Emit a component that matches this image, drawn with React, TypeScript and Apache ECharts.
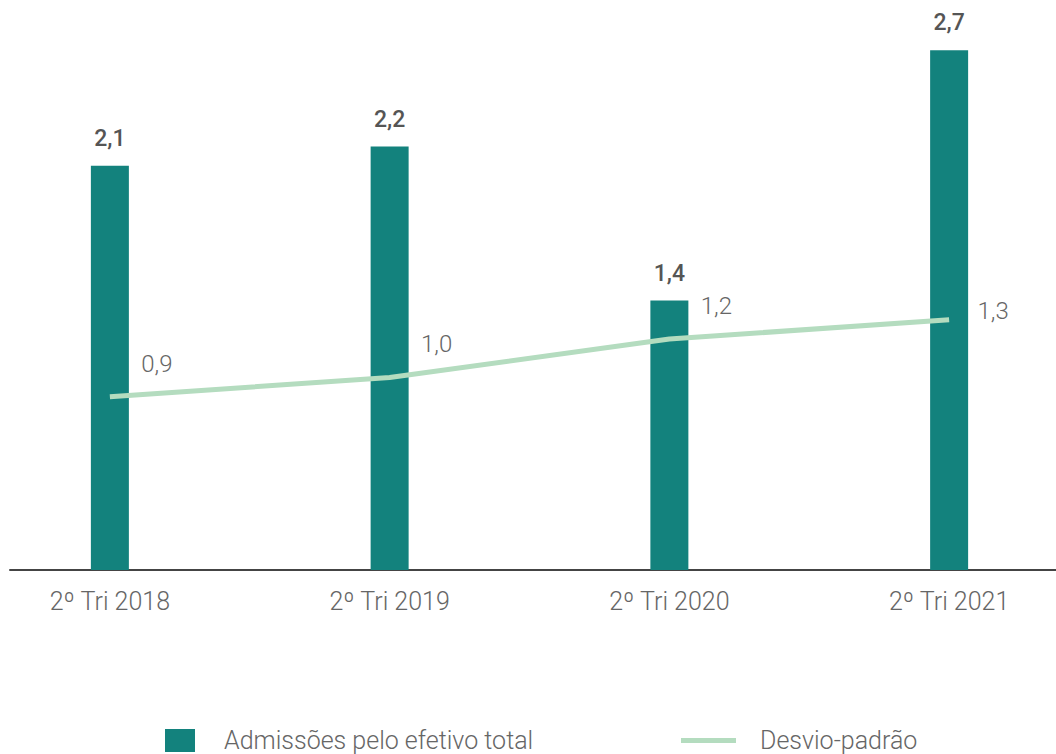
import React, { useEffect, useRef } from "react";
import * as echarts from "echarts";

const categories = ["2º Tri 2018", "2º Tri 2019", "2º Tri 2020", "2º Tri 2021"];
const admissoes = [2.1, 2.2, 1.4, 2.7];
const desvio = [0.9, 1.0, 1.2, 1.3];
const barName = "Admissões pelo efetivo total";
const lineName = "Desvio-padrão";

const fmt = (v: number) => v.toFixed(1).replace(".", ",");

export default function App() {
  const ref = useRef<HTMLDivElement>(null);
  useEffect(() => {
    const chart = echarts.init(ref.current!, null, { renderer: "svg" });
    const last = desvio.length - 1;
    chart.setOption({
      animation: false,
      textStyle: { fontFamily: "Roboto" },
      grid: [
        { left: 0, right: 0, top: 31, bottom: 184 },
        { left: 40, right: 33, top: 31, bottom: 184 },
      ],
      legend: [
        {
          data: [{ name: barName, icon: "rect" }],
          left: 195,
          top: 728,
          padding: 0,
          itemWidth: 30,
          itemHeight: 23,
          textStyle: { fontSize: 25, color: "#666", fontWeight: 300, padding: [0, 0, 0, 24] },
        },
        {
          data: [{ name: lineName, icon: "rect" }],
          left: 711,
          top: 728,
          padding: 0,
          itemWidth: 55,
          itemHeight: 5,
          textStyle: { fontSize: 25, color: "#666", fontWeight: 300, padding: [0, 0, 0, 19] },
        },
      ],
      xAxis: [
        {
          type: "category",
          gridIndex: 0,
          data: categories,
          axisLine: { show: false },
          axisTick: { show: false },
          axisLabel: { fontSize: 25, color: "#666", margin: 19, fontWeight: 300 },
        },
        {
          type: "value",
          gridIndex: 1,
          min: 0,
          max: 1,
          axisLine: { show: true, lineStyle: { color: "#444", width: 2 } },
          axisTick: { show: false },
          axisLabel: { show: false },
          splitLine: { show: false },
        },
      ],
      yAxis: [
        { type: "value", gridIndex: 0, min: 0, max: 2.8, show: false },
        { type: "value", gridIndex: 1, min: 0, max: 1, show: false },
      ],
      series: [
        {
          name: barName,
          type: "bar",
          data: admissoes,
          barWidth: 38,
          itemStyle: { color: "#13827d" },
          z: 2,
          label: {
            show: true,
            position: "top",
            distance: 16,
            formatter: (p: any) => fmt(p.value),
            fontSize: 23,
            fontWeight: 500,
            color: "#555",
          },
        },
        {
          name: lineName,
          type: "line",
          data: desvio.map((v, i) => (i === last ? { value: v, label: { offset: [44, 8] } } : v)),
          symbol: "circle",
          symbolSize: 0.1,
          z: 3,
          lineStyle: { color: "#b4dcbf", width: 5 },
          itemStyle: { color: "#b4dcbf" },
          label: {
            show: true,
            position: "top",
            distance: 5,
            offset: [47, -16],
            formatter: (p: any) => fmt(p.value),
            fontSize: 24,
            fontWeight: 300,
            color: "#666",
          },
        },
      ],
    });
    return () => chart.dispose();
  }, []);
  return (
    <div
      style={{ position: "absolute", left: 0, top: 0, width: 1056, height: 754, overflow: "hidden", background: "#fff" }}
    >
      <div ref={ref} style={{ position: "absolute", left: -30, top: 0, width: 1119, height: 754 }} />
    </div>
  );
}
